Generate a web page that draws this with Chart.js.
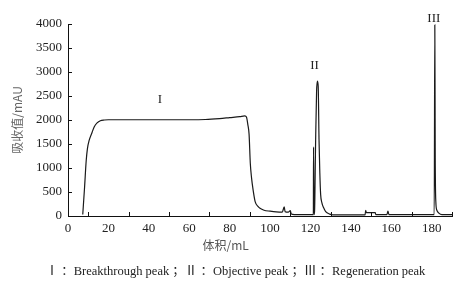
<!DOCTYPE html>
<html>
<head>
<meta charset="utf-8">
<script src="https://cdn.jsdelivr.net/npm/chart.js@4"></script>
<style>
  html, body { margin: 0; padding: 0; background: #fff; }
</style>
</head>
<body>
<canvas id="chart" width="471" height="289"></canvas>
<script>
// elution volume (mL) and absorbance (mAU)
const volume = [
  7.3, 8.2, 9.0, 9.6, 10.5, 11.9, 13.0, 14.4, 16.0, 18, 20, 30, 40, 50, 60, 68, 75, 80, 85, 87.5,
  88.3, 89, 89.6, 90.2, 90.8, 91.6, 92.6, 94, 95, 97, 100, 103, 106, 107, 107.4, 109, 110, 110.5, 112,
  121.4, 121.5, 121.7, 122, 122.5, 123, 123.4, 123.8, 124.2, 124.6, 125, 125.6, 126.5, 127.5, 129.5, 131,
  147, 147.3, 147.6, 152, 152.3, 157.8, 158.3, 158.8,
  181.2, 181.5, 181.7, 182.0, 182.5, 183.5, 185, 190
];
const absorbance = [
  30, 600, 1150, 1400, 1580, 1740, 1860, 1940, 1985, 2000, 2005, 2005, 2005, 2005, 2005, 2010, 2030, 2050, 2070, 2085,
  2060, 1900, 1700, 1100, 800, 540, 300, 200, 160, 120, 100, 85, 80, 190, 90, 80, 110, 40, 30,
  30, 1440, 30, 100, 1500, 2600, 2810, 2700, 1600, 900, 450, 280, 170, 90, 40, 25,
  25, 120, 70, 70, 30, 30, 100, 30,
  30, 3980, 1230, 300, 120, 60, 30, 30
];

// peak labels
const peakNames = ['I', 'II', 'III'];
const peakX = [45.5, 122, 181];
const peakY = [2420, 3130, 4120];

const xTitle = '体积/mL';
const footer = 'Ⅰ ：Breakthrough peak ；Ⅱ ：Objective peak ；Ⅲ ：Regeneration peak';

const xTickMarks = [10, 30, 50, 70, 90, 110, 130, 150, 170, 190];
const yTickMarks = [0, 500, 1000, 1500, 2000, 2500, 3000, 3500, 4000];

const points = volume.map((v, i) => ({ x: v, y: absorbance[i] }));

// inward tick marks, peak labels, x title, footer note
const extras = {
  id: 'extras',
  afterDraw(chart) {
    const ctx = chart.ctx;
    const xs = chart.scales.x, ys = chart.scales.y;
    const area = chart.chartArea;
    ctx.save();
    ctx.strokeStyle = '#111';
    ctx.lineWidth = 1;
    ctx.beginPath();
    xTickMarks.forEach(v => {
      const px = Math.round(xs.getPixelForValue(v)) + 0.5;
      ctx.moveTo(px, area.bottom);
      ctx.lineTo(px, area.bottom - 4);
    });
    yTickMarks.forEach(v => {
      const py = Math.round(ys.getPixelForValue(v)) + 0.5;
      ctx.moveTo(area.left, py);
      ctx.lineTo(area.left + 4, py);
    });
    ctx.stroke();

    ctx.fillStyle = '#222';
    ctx.font = '13px "Liberation Serif"';
    ctx.textAlign = 'center';
    ctx.textBaseline = 'middle';
    peakNames.forEach((n, i) => {
      ctx.fillText(n, xs.getPixelForValue(peakX[i]), ys.getPixelForValue(peakY[i]));
    });

    ctx.fillStyle = '#555';
    ctx.font = '12px "Noto Sans CJK SC"';
    ctx.fillText(xTitle, xs.getPixelForValue(78), 245);

    ctx.fillStyle = '#222';
    ctx.font = '12.5px "Liberation Serif", "Noto Sans CJK SC"';
    ctx.fillText(footer, chart.width / 2, 272);
    ctx.restore();
  }
};

new Chart(document.getElementById('chart'), {
  type: 'line',
  data: {
    datasets: [{
      data: points,
      borderColor: '#1a1a1a',
      borderWidth: 1.2,
      pointRadius: 0,
      fill: false,
      cubicInterpolationMode: 'monotone'
    }]
  },
  options: {
    responsive: false,
    animation: false,
    layout: { padding: { top: 24, right: 19, left: 0, bottom: 25 } },
    plugins: {
      legend: { display: false },
      tooltip: { enabled: false }
    },
    scales: {
      x: {
        type: 'linear',
        min: 0,
        max: 190,
        afterFit: s => { s.height = 48; },
        ticks: {
          stepSize: 20,
          includeBounds: false,
          padding: 5,
          autoSkip: false,
          color: '#222',
          maxRotation: 0,
          font: { family: '"Liberation Serif"', size: 13 }
        },
        grid: { display: false, drawTicks: false },
        border: { display: true, color: '#111', width: 1 }
      },
      y: {
        min: 0,
        max: 4000,
        afterFit: s => { s.width = 68; },
        ticks: {
          stepSize: 500,
          padding: 6,
          color: '#222',
          callback: v => String(v),
          font: { family: '"Liberation Serif"', size: 13 }
        },
        grid: { display: false, drawTicks: false },
        border: { display: true, color: '#111', width: 1 },
        title: {
          display: true,
          text: '吸收值/mAU',
          color: '#666',
          font: { family: '"Noto Sans CJK SC"', size: 12 },
          padding: { top: 10, bottom: 0 }
        }
      }
    }
  },
  plugins: [extras]
});
</script>
</body>
</html>
